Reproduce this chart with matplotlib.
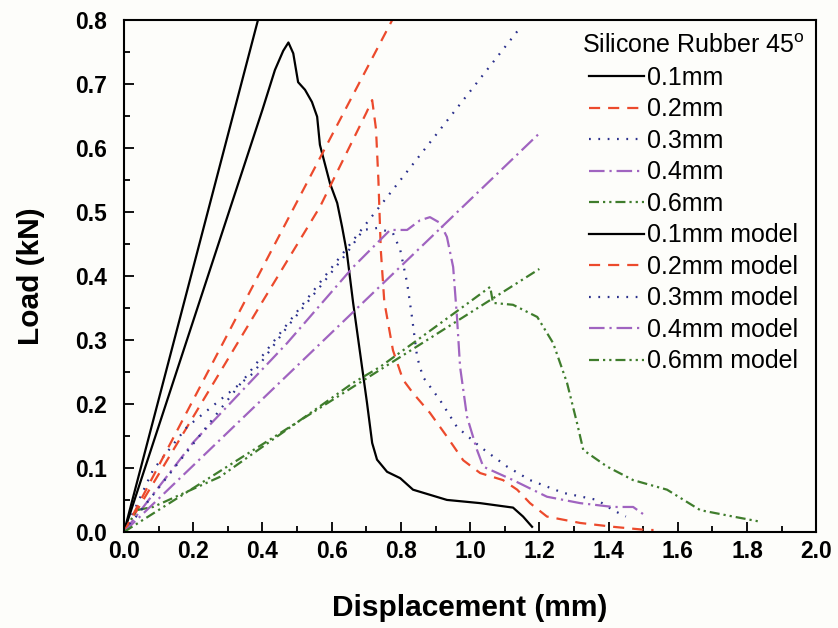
import matplotlib
matplotlib.use("Agg")
import matplotlib.pyplot as plt
from matplotlib import font_manager
from matplotlib.ticker import MultipleLocator

# ---------------- data ----------------
labels = ["0.1mm", "0.2mm", "0.3mm", "0.4mm", "0.6mm"]

exp_01_x = [0, 0.10, 0.20, 0.30, 0.40, 0.436, 0.46, 0.475, 0.489, 0.503, 0.523, 0.543, 0.558, 0.566,
            0.595, 0.616, 0.630, 0.644, 0.662, 0.682, 0.702, 0.717, 0.731, 0.760, 0.798, 0.835, 0.933,
            1.029, 1.124, 1.153, 1.179]
exp_01_y = [0, 0.165, 0.33, 0.495, 0.66, 0.722, 0.752, 0.765, 0.748, 0.703, 0.691, 0.672, 0.649, 0.605,
            0.545, 0.514, 0.477, 0.436, 0.358, 0.280, 0.202, 0.139, 0.113, 0.094, 0.084, 0.066, 0.050,
            0.045, 0.038, 0.024, 0.008]

exp_02_x = [0, 0.2, 0.4, 0.566, 0.70, 0.717, 0.728, 0.735, 0.742, 0.752, 0.777, 0.806, 0.835, 0.884,
            0.933, 0.980, 1.029, 1.095, 1.136, 1.173, 1.222, 1.318, 1.413, 1.51, 1.53]
exp_02_y = [0, 0.18, 0.36, 0.508, 0.655, 0.675, 0.63, 0.55, 0.44, 0.36, 0.284, 0.238, 0.217, 0.186,
            0.149, 0.112, 0.092, 0.081, 0.066, 0.045, 0.024, 0.014, 0.008, 0.003, 0.003]

exp_03_x = [0, 0.084, 0.182, 0.277, 0.373, 0.471, 0.566, 0.644, 0.691, 0.731, 0.777, 0.798, 0.818,
            0.832, 0.847, 0.864, 0.913, 0.962, 1.029, 1.107, 1.173, 1.269, 1.367, 1.413, 1.45]
exp_03_y = [0, 0.097, 0.164, 0.206, 0.248, 0.320, 0.383, 0.436, 0.472, 0.475, 0.467, 0.441, 0.389,
            0.336, 0.273, 0.242, 0.206, 0.164, 0.133, 0.102, 0.081, 0.061, 0.050, 0.034, 0.024]

exp_04_x = [0, 0.2, 0.471, 0.662, 0.769, 0.818, 0.855, 0.884, 0.913, 0.933, 0.951, 0.962, 0.971,
            0.991, 1.020, 1.038, 1.124, 1.222, 1.318, 1.413, 1.471, 1.51]
exp_04_y = [0, 0.14, 0.295, 0.414, 0.472, 0.472, 0.487, 0.492, 0.483, 0.461, 0.414, 0.336, 0.258,
            0.180, 0.128, 0.102, 0.081, 0.055, 0.045, 0.039, 0.039, 0.024]

exp_06_x = [0, 0.036, 0.084, 0.277, 0.662, 0.740, 0.835, 1.0, 1.058, 1.066, 1.124, 1.194, 1.240,
            1.280, 1.309, 1.327, 1.396, 1.471, 1.569, 1.665, 1.760, 1.838]
exp_06_y = [0, 0.034, 0.039, 0.086, 0.233, 0.258, 0.295, 0.36, 0.383, 0.358, 0.355, 0.336, 0.295,
            0.233, 0.170, 0.128, 0.102, 0.081, 0.066, 0.034, 0.024, 0.016]

model_01_x = [0, 0.40]
model_01_y = [0, 0.827]
model_02_x = [0, 0.80]
model_02_y = [0, 0.826]
model_03_x = [0, 1.14]
model_03_y = [0, 0.785]
model_04_x = [0, 1.2]
model_04_y = [0, 0.623]
model_06_x = [0, 1.2]
model_06_y = [0, 0.411]

x_ticks = [0.0, 0.2, 0.4, 0.6, 0.8, 1.0, 1.2, 1.4, 1.6, 1.8, 2.0]
y_ticks = [0.0, 0.1, 0.2, 0.3, 0.4, 0.5, 0.6, 0.7, 0.8]

# ---------------- style ----------------
avail = {f.name for f in font_manager.fontManager.ttflist}
tick_font = "Liberation Sans Narrow" if "Liberation Sans Narrow" in avail else "Liberation Sans"
plt.rcParams["font.family"] = ["Liberation Sans", "DejaVu Sans"]
plt.rcParams["mathtext.fontset"] = "custom"
plt.rcParams["mathtext.rm"] = "Liberation Sans"

colors = ["#000000", "#ec4a2c", "#2a2f8c", "#a064c0", "#3f7d2c"]
lw = 1.6
styles = [
    "-",
    (0, (5, 3.6)),
    (0, (0.8, 3.4)),
    (0, (7, 2.2, 1, 2.2)),
    (0, (4.5, 1.8, 1, 1.8, 1, 1.8)),
]

fig = plt.figure(figsize=(8.38, 6.28), dpi=100, facecolor="#fdfdfa")
ax = fig.add_axes([0.148, 0.153, 0.826, 0.815])
ax.set_facecolor("#fdfdfa")

exps = [(exp_01_x, exp_01_y), (exp_02_x, exp_02_y), (exp_03_x, exp_03_y),
        (exp_04_x, exp_04_y), (exp_06_x, exp_06_y)]
models = [(model_01_x, model_01_y), (model_02_x, model_02_y), (model_03_x, model_03_y),
          (model_04_x, model_04_y), (model_06_x, model_06_y)]

handles = []
for (x, y), c, s, lab in zip(exps, colors, styles, labels):
    h, = ax.plot(x, y, color=c, ls=s, lw=lw, label=lab)
    handles.append(h)
for (x, y), c, s, lab in zip(models, colors, styles, labels):
    h, = ax.plot(x, y, color=c, ls=s, lw=lw, label=lab + " model")
    handles.append(h)

ax.set_xlim(0, 2.0)
ax.set_ylim(0, 0.8)
ax.set_xticks(x_ticks)
ax.set_yticks(y_ticks)
ax.set_xticklabels([f"{v:.1f}" for v in x_ticks])
ax.set_yticklabels([f"{v:.1f}" for v in y_ticks])
ax.xaxis.set_minor_locator(MultipleLocator(0.1))
ax.yaxis.set_minor_locator(MultipleLocator(0.05))
ax.tick_params(which="both", direction="in", top=False, right=False, width=1.3)
ax.tick_params(which="major", length=7)
ax.tick_params(which="minor", length=4)
ax.tick_params(axis="x", which="major", pad=6)
ax.tick_params(axis="y", which="major", pad=12)
for lab in ax.get_xticklabels() + ax.get_yticklabels():
    lab.set_fontfamily(tick_font)
    lab.set_fontweight("bold")
    lab.set_fontsize(16.5)
for sp in ax.spines.values():
    sp.set_linewidth(1.5)

ax.set_xlabel("Displacement (mm)", fontsize=21.5, fontweight="bold", labelpad=22)
ax.set_ylabel("Load (kN)", fontsize=21.5, fontweight="bold", labelpad=22)

leg = ax.legend(handles=handles, loc="upper right", bbox_to_anchor=(1.0, 0.994),
                frameon=False, fontsize=18, title="Silicone Rubber 45$^\\mathrm{o}$",
                title_fontsize=18, handlelength=2.2, handletextpad=0.1,
                labelspacing=0.3, borderaxespad=0.15, borderpad=0.3, alignment="center")

fig.savefig("out.png", dpi=100, facecolor=fig.get_facecolor())
